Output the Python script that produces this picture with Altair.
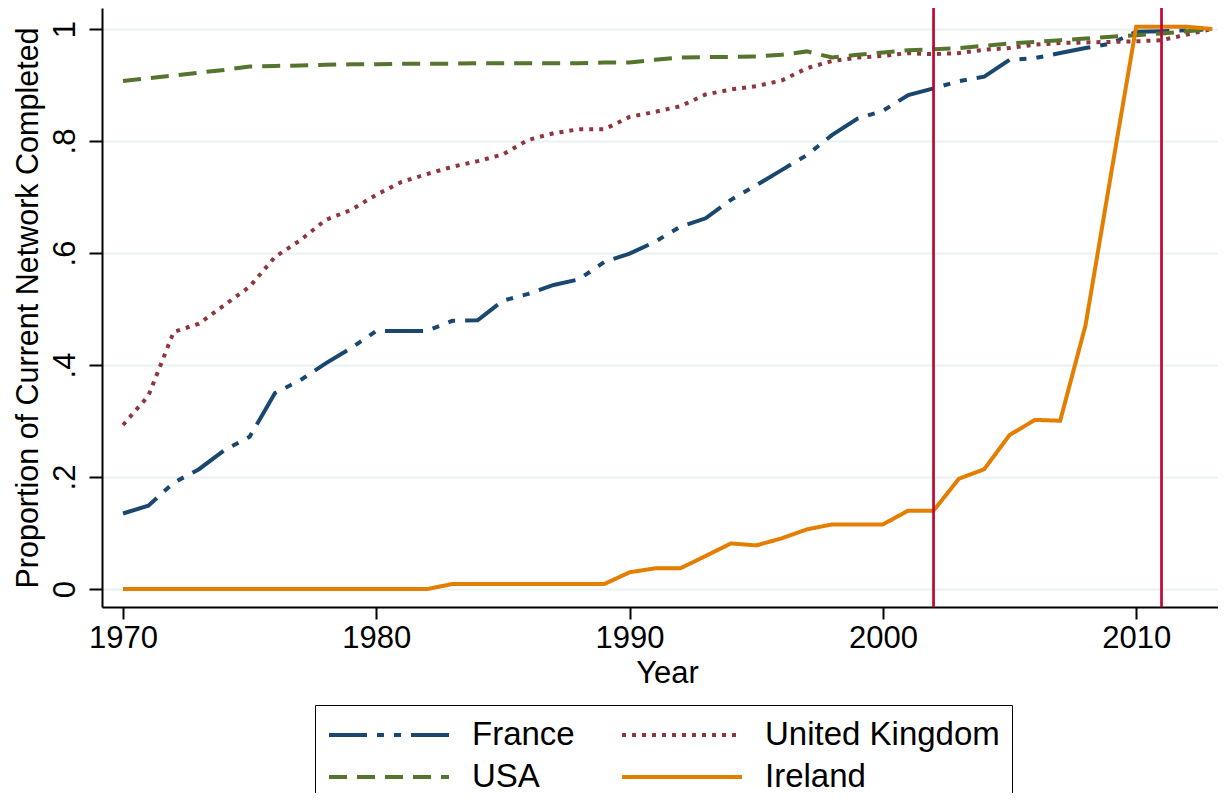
import altair as alt
import pandas as pd

years = list(range(1970, 2014))

france = [0.135, 0.149, 0.190, 0.214, 0.248, 0.272, 0.350, 0.373, 0.403, 0.430,
          0.461, 0.461, 0.461, 0.479, 0.480, 0.515, 0.527, 0.543, 0.553, 0.584,
          0.599, 0.620, 0.647, 0.662, 0.695, 0.721, 0.748, 0.775, 0.811, 0.840,
          0.854, 0.882, 0.894, 0.907, 0.915, 0.945, 0.948, 0.957, 0.966, 0.974,
          0.995, 0.996, 0.998, 1.000]

uk = [0.293, 0.345, 0.459, 0.474, 0.507, 0.540, 0.593, 0.623, 0.659, 0.677,
      0.704, 0.727, 0.741, 0.754, 0.764, 0.776, 0.802, 0.814, 0.821, 0.821,
      0.843, 0.852, 0.862, 0.883, 0.892, 0.898, 0.908, 0.930, 0.943, 0.949,
      0.952, 0.957, 0.955, 0.957, 0.963, 0.966, 0.972, 0.975, 0.976, 0.977,
      0.978, 0.980, 0.990, 1.000]

usa = [0.907, 0.912, 0.917, 0.922, 0.927, 0.933, 0.934, 0.935, 0.936, 0.937,
       0.937, 0.938, 0.938, 0.938, 0.939, 0.939, 0.939, 0.939, 0.939, 0.940,
       0.940, 0.945, 0.949, 0.950, 0.950, 0.951, 0.954, 0.960, 0.949, 0.954,
       0.958, 0.962, 0.964, 0.966, 0.970, 0.974, 0.977, 0.980, 0.983, 0.986,
       0.989, 0.992, 0.996, 1.000]

ireland = [0.0, 0.0, 0.0, 0.0, 0.0, 0.0, 0.0, 0.0, 0.0, 0.0,
           0.0, 0.0, 0.0, 0.009, 0.009, 0.009, 0.009, 0.009, 0.009, 0.009,
           0.030, 0.037, 0.037, 0.059, 0.0815, 0.078, 0.0905, 0.1066, 0.1155, 0.1155,
           0.1155, 0.140, 0.140, 0.197, 0.214, 0.275, 0.302, 0.3006, 0.471, 0.739,
           1.004, 1.004, 1.004, 1.000]

series_names = ["France", "United Kingdom", "USA", "Ireland"]
series_colors = ["#1a476f", "#90353b", "#55752f", "#e37e00"]
series_dashes = [[38, 10, 7, 10, 7, 10], [4, 6], [18, 10], [1, 0]]

event_years = [2002, 2011]

x_ticks = [1970, 1980, 1990, 2000, 2010]
y_ticks = [0, 0.2, 0.4, 0.6, 0.8, 1.0]
y_tick_labels = ["0", ".2", ".4", ".6", ".8", "1"]

rows = []
for name, vals in [("France", france), ("United Kingdom", uk), ("USA", usa), ("Ireland", ireland)]:
    for yr, v in zip(years, vals):
        rows.append({"Year": yr, "Country": name, "Value": v})
df = pd.DataFrame(rows)
events = pd.DataFrame({"Year": event_years})

label_expr = " : ".join(
    f"abs(datum.value - {v}) < 0.001 ? '{lab}'" for v, lab in zip(y_ticks, y_tick_labels)
) + " : ''"

FONT = "Liberation Sans"

x_scale = alt.Scale(domain=[1969.17, 2013.23], nice=False, zero=False)
y_scale = alt.Scale(domain=[-0.032, 1.0375], nice=False, zero=False)

lines = alt.Chart(df).mark_line(strokeWidth=4, strokeCap="butt", clip=True).encode(
    x=alt.X("Year:Q", scale=x_scale,
            axis=alt.Axis(values=x_ticks, format="d", grid=False, tickSize=12,
                          tickWidth=2, tickColor="black", domainColor="black",
                          domainWidth=2, labelFont=FONT, labelFontSize=31,
                          labelColor="black", labelBaseline="alphabetic",
                          labelPadding=28, titleFont=FONT, titleFontSize=31,
                          titleFontWeight="normal", titleColor="black",
                          titleBaseline="alphabetic", titleX=565, titleY=75,
                          title="Year")),
    y=alt.Y("Value:Q", scale=y_scale,
            axis=alt.Axis(values=y_ticks, labelExpr=label_expr, grid=True,
                          gridColor="#eaf2f3", gridWidth=2, tickSize=13,
                          tickWidth=2, tickColor="black", domainColor="black",
                          domainWidth=2, labelFont=FONT, labelFontSize=31,
                          labelColor="black", labelAngle=270, labelAlign="center",
                          labelBaseline="alphabetic", labelPadding=15,
                          titleFont=FONT, titleFontSize=30.5, titleFontWeight="normal",
                          titleColor="black", titleAngle=270, titleAlign="center",
                          titleBaseline="alphabetic", titleX=-65, titleY=299.5,
                          title="Proportion of Current Network Completed")),
    color=alt.Color("Country:N",
                    scale=alt.Scale(domain=series_names, range=series_colors),
                    legend=alt.Legend(title=None, orient="none", legendX=213, legendY=697,
                                      columns=2, symbolType="stroke", symbolSize=14400,
                                      symbolStrokeWidth=4, clipHeight=36, rowPadding=6,
                                      columnPadding=45, labelOffset=21, padding=12,
                                      labelFont=FONT, labelFontSize=33, labelColor="black",
                                      labelLimit=400, strokeColor="black", fillColor="white",
                                      direction="horizontal")),
    strokeDash=alt.StrokeDash("Country:N",
                              scale=alt.Scale(domain=series_names, range=series_dashes),
                              legend=alt.Legend(title=None)),
    order=alt.Order("Year:Q"),
)

rules = alt.Chart(events).mark_rule(color="#c10534", strokeWidth=2.7).encode(
    x=alt.X("Year:Q", scale=x_scale)
)

chart = alt.layer(lines, rules).properties(
    width=1116, height=599,
    autosize=alt.AutoSizeParams(type="none"),
    padding={"left": 94, "top": 0, "right": 0, "bottom": 186},
    background="white",
).configure_view(strokeWidth=0)

chart.save("out.html", embed_options={"renderer": "svg", "actions": False})
